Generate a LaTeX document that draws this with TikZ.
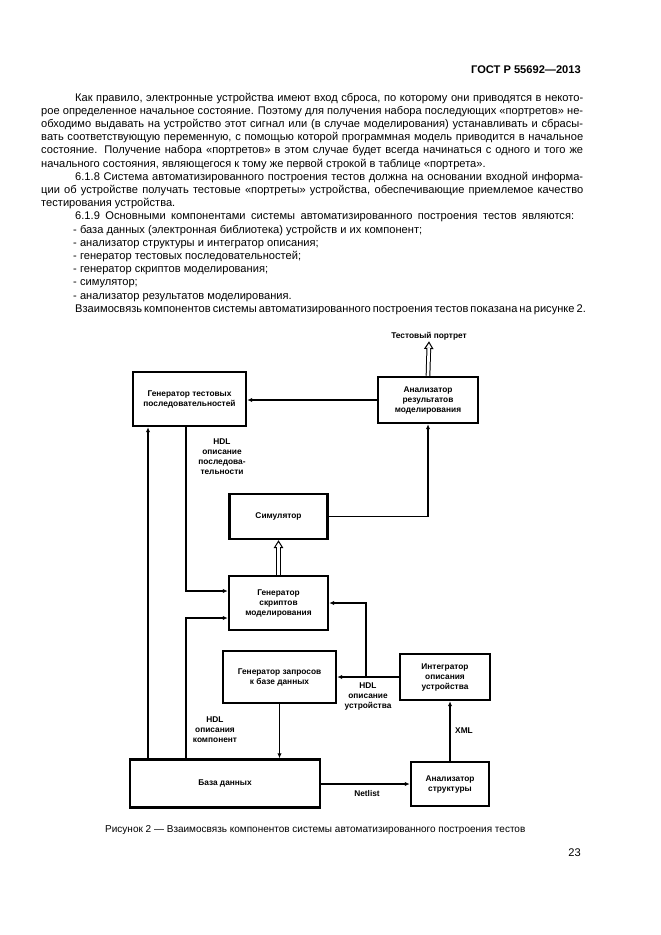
\documentclass[tikz,border=0pt]{standalone}
\usepackage{fontspec}
\setmainfont{Liberation Sans}
\usetikzlibrary{arrows.meta,positioning}
\newcommand{\fullline}[1]{\makebox[487.8pt][s]{#1}}
\newcommand{\indline}[1]{\makebox[457.2pt][s]{#1}}
\tikzset{block/.style={rectangle,draw=black,line width=2.2pt,align=center,inner sep=2pt,
			font=\fontsize{7.5}{9}\selectfont\bfseries},
		post/.style={-{Latex[length=4.5pt,width=4pt]},line width=1.6pt},
		dblhead/.style={draw=white,line width=0.9pt,-{Triangle[open,color=black,length=7pt,width=8.5pt]}},
		dbl/.style={double,double distance=2.4pt,line width=0.9pt,shorten >=6pt},
		lbl/.style={align=center,inner sep=1pt,font=\fontsize{7.5}{9}\selectfont\bfseries}}

\begin{document}
\begin{tikzpicture}[x=0.9pt,y=-0.9pt,
		txt/.style={anchor=base west,inner sep=0pt,font=\fontsize{10}{12}\selectfont}]
	\useasboundingbox (0,0) rectangle (661,935);
	% page header and text
	\node[anchor=base east,inner sep=0pt,font=\fontsize{10}{12}\selectfont\bfseries] (gost) at (581,73) {ГОСТ Р 55692—2013};
	\node[txt] (p1) at (75,101) {\indline{Как правило, электронные устройства имеют вход сброса, по которому они приводятся в некото-}};
	\node[txt] (p2) at (41,114.2) {\fullline{рое определенное начальное состояние. Поэтому для получения набора последующих «портретов» не-}};
	\node[txt] (p3) at (41,127.4) {\fullline{обходимо выдавать на устройство этот сигнал или (в случае моделирования) устанавливать и сбрасы-}};
	\node[txt] (p4) at (41,140.6) {\fullline{вать соответствующую переменную, с помощью которой программная модель приводится в начальное}};
	\node[txt] (p5) at (41,153.8) {\fullline{состояние. Получение набора «портретов» в этом случае будет всегда начинаться с одного и того же}};
	\node[txt] (p6) at (41,167) {начального состояния, являющегося к тому же первой строкой в таблице «портрета».};
	\node[txt] (p7) at (75,180.2) {\indline{6.1.8 Система автоматизированного построения тестов должна на основании входной информа-}};
	\node[txt] (p8) at (41,193.4) {\fullline{ции об устройстве получать тестовые «портреты» устройства, обеспечивающие приемлемое качество}};
	\node[txt] (p9) at (41,206.6) {тестирования устройства.};
	\node[txt] (p10) at (75,219.8) {\makebox[449pt][s]{6.1.9 Основными компонентами системы автоматизированного построения тестов являются:}};
	\node[txt] (p11) at (73,233) {- база данных (электронная библиотека) устройств и их компонент;};
	\node[txt] (p12) at (73,246.2) {- анализатор структуры и интегратор описания;};
	\node[txt] (p13) at (73,259.4) {- генератор тестовых последовательностей;};
	\node[txt] (p14) at (73,272.6) {- генератор скриптов моделирования;};
	\node[txt] (p15) at (73,285.8) {- симулятор;};
	\node[txt] (p16) at (73,299) {- анализатор результатов моделирования.};
	\node[txt] (p17) at (75,312.2) {\makebox[454pt][s]{Взаимосвязь компонентов системы автоматизированного построения тестов показана на рисунке 2.}};

	% blocks
	\node[block,minimum width=101.7pt,minimum height=48.6pt] (gentests) at (189.5,399) {Генератор тестовых\\последовательностей};
	\node[block,minimum width=90pt,minimum height=41.4pt] (analres) at (428,400) {Анализатор\\результатов\\моделирования};
	\node[block,minimum width=88.2pt,minimum height=40.5pt] (sim) at (278.5,516.5) {Симулятор};
	\node[block,minimum width=89.1pt,minimum height=48.6pt] (genscr) at (278.5,603) {Генератор\\скриптов\\моделирования};
	\node[block,minimum width=101.7pt,minimum height=46.8pt] (query) at (279.5,677) {Генератор запросов\\к базе данных};
	\node[block,minimum width=81pt,minimum height=41.4pt] (integr) at (445,677) {Интегратор\\описания\\устройства};
	\node[block,minimum width=171pt,minimum height=43.2pt] (db) at (225,783.5) {База данных};
	\node[block,minimum width=70.2pt,minimum height=39.6pt] (anstr) at (450,784) {Анализатор\\структуры};
	\node[lbl] (portrait) at (429,336) {Тестовый портрет};

	% connectors
	\draw[dblhead] (analres.north) -- (portrait.south);
	\draw[dbl] (analres.north) -- (portrait.south);
	\draw[post] (analres.west) -- (analres.west -| gentests.east);
	\draw[post] (db.north -| 148,0) -- (gentests.south -| 148,0);
	\draw[post] (gentests.south -| 186,0) |- (genscr.west |- 0,591);
	\draw[post] (db.north -| 186,0) |- (genscr.west |- 0,618);
	\draw[post] (sim.east) -| (analres.south);
	\draw[dblhead] (genscr.north) -- (sim.south);
	\draw[dbl] (genscr.north) -- (sim.south);
	\draw[post] (integr.west) -- (query.east);
	\draw[post] (integr.west -| 366,0) |- (genscr.east);
	\draw[post] (query.south) -- (query.south |- db.north);
	\draw[post] (db.east |- anstr.west) -- (anstr.west);
	\draw[post] (anstr.north) -- (anstr.north |- integr.south);

	% connector labels
	\node[lbl] (hdlseq) at (222,457) {HDL\\описание\\последова-\\тельности};
	\node[lbl] (hdlcomp) at (215,730) {HDL\\описания\\компонент};
	\node[lbl] (hdldev) at (368,696) {HDL\\описание\\устройства};
	\node[lbl] (netlist) at (367,794) {Netlist};
	\node[lbl] (xml) at (464,731) {XML};

	% caption and page number
	\node[anchor=base west,inner sep=0pt,font=\fontsize{9}{11}\selectfont] (caption) at (105,832) {Рисунок 2 — Взаимосвязь компонентов системы автоматизированного построения тестов};
	\node[anchor=base east,inner sep=0pt,font=\fontsize{10}{12}\selectfont] (pagenum) at (581,856) {23};
\end{tikzpicture}
\end{document}
